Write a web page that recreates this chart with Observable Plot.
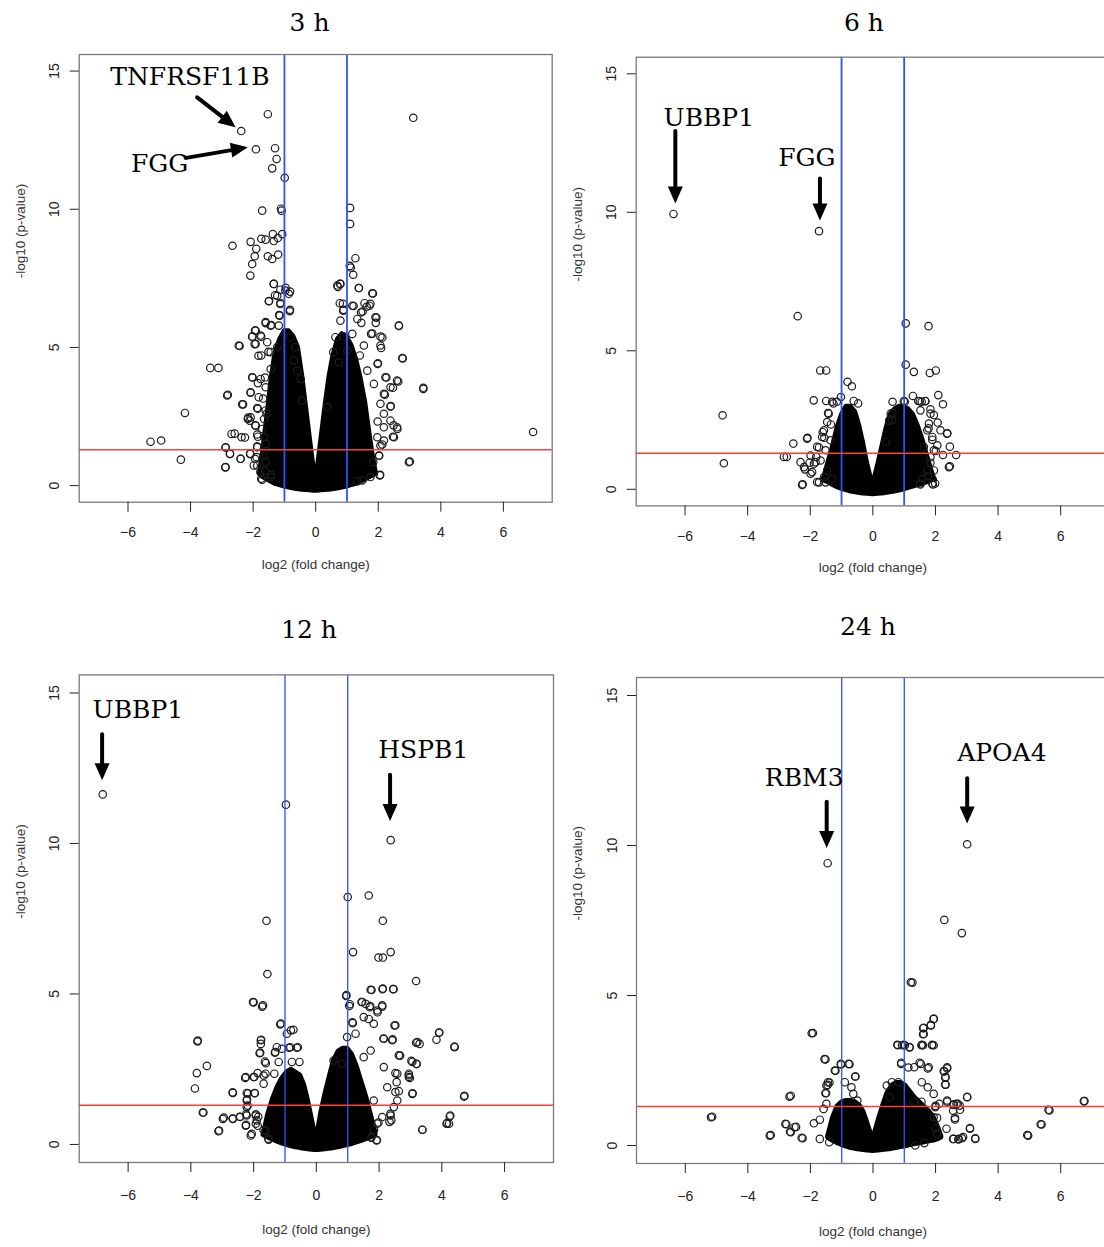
<!DOCTYPE html>
<html><head><meta charset="utf-8">
<script src="https://cdn.jsdelivr.net/npm/d3@7"></script>
<script src="https://cdn.jsdelivr.net/npm/@observablehq/plot@0.6"></script>
<style>
html,body{margin:0;padding:0;background:#fff;overflow:hidden;}
#wrap{position:relative;width:1104px;height:1247px;overflow:hidden;background:#fff;}
.panel{position:absolute;}
.panel svg{max-width:none !important;display:block;}
.title{position:absolute;font-family:"DejaVu Serif",serif;font-size:25px;color:#000;transform:translate(-50%,-50%);white-space:nowrap;}
</style></head><body><div id="wrap"></div>
<script>
// ---------- shared axis data ----------
const panelTitles = ["3 h", "6 h", "12 h", "24 h"];
const xTicks = [-6, -4, -2, 0, 2, 4, 6];
const yTicks = [0, 5, 10, 15];
const xDomain = [-7.56, 7.56];
const yDomain = [-0.6, 15.6];
const foldLines = [-1, 1];
const pLine = [1.301];
const xLabel = "log2 (fold change)";
const yLabel = "-log10 (p-value)";

// ---------- 3 h ----------
const pts3h = [[3.12,13.31],[-1.53,13.44],[-2.38,12.83],[-1.91,12.17],[-1.30,12.21],[-1.25,11.82],[-1.39,11.48],[-0.99,11.14],[-1.71,9.95],[-1.11,10.02],[-1.09,9.95],[1.10,10.05],[1.10,9.47],[-2.66,8.68],[-2.08,8.82],[-1.90,8.57],[-1.74,8.93],[-1.60,8.90],[-1.37,9.10],[-1.34,8.85],[-1.21,8.96],[-1.07,9.10],[-1.95,8.30],[-2.03,8.02],[-1.53,8.30],[-1.39,8.20],[-1.20,8.36],[-2.09,7.60],[1.27,8.23],[1.09,7.95],[1.12,7.89],[1.20,7.63],[0.71,7.19],[0.78,7.30],[1.38,7.15],[1.83,6.95],[1.75,6.58],[1.63,6.47],[0.87,6.58],[0.89,6.36],[1.21,6.50],[1.50,6.30],[1.94,6.08],[1.92,5.89],[1.46,5.89],[2.66,5.78],[2.78,4.60],[1.98,4.40],[2.09,4.98],[2.13,5.36],[1.81,5.50],[3.44,3.50],[6.95,1.94],[3.01,0.87],[2.64,3.77],[2.47,3.54],[2.26,3.91],[2.40,2.88],[2.49,2.18],[2.61,2.05],[2.47,1.77],[2.13,1.49],[2.03,1.08],[2.06,0.39],[2.21,3.29],[1.98,2.32],
[-1.13,7.09],[-1.34,7.30],[-0.82,7.02],[-0.96,7.16],[-1.49,6.68],[-1.13,6.61],[-0.82,6.36],[-1.30,6.89],[-1.60,5.92],[-1.42,5.81],[-1.17,6.17],[-1.94,5.61],[-2.02,5.39],[-1.74,5.39],[-1.95,5.12],[-2.43,5.05],[-1.83,4.70],[-1.51,4.84],[-3.37,4.26],[-3.11,4.26],[-2.02,3.91],[-1.85,3.71],[-1.62,3.91],[-2.81,3.29],[-2.08,3.36],[-1.68,3.15],[-2.32,2.94],[-1.85,2.78],[-1.57,2.60],[-4.18,2.63],[-2.16,2.46],[-2.11,2.35],[-1.93,2.18],[-2.59,1.88],[-2.26,1.74],[-5.28,1.59],[-4.94,1.63],[-1.85,1.77],[-1.87,1.42],[-2.88,1.38],[-2.74,1.15],[-2.09,1.15],[-4.31,0.94],[-2.40,0.97],[-1.94,0.97],[-2.89,0.66],[-1.87,0.73],[-1.74,0.25],[-1.68,1.08],[-1.62,0.53],[-1.42,0.39],
[-1.34,7.30],[-1.23,6.87],[-0.97,7.06],[-0.86,6.94],[-1.50,6.67],[-1.13,6.57],[-0.83,6.31],[-1.15,6.15],[-1.60,5.88],[-1.44,5.79],[-1.18,5.79],[-1.92,5.61],[-2.03,5.39],[-1.76,5.43],[-0.81,5.37],[-1.55,5.19],[-2.46,5.07],[-1.92,5.13],[-1.23,5.01],[-0.65,5.01],[-1.74,4.71],[-1.44,4.83],[-0.70,4.53],[-1.44,4.22],[-0.59,4.16],[-2.03,3.92],[-1.76,3.86],[-0.48,3.86],[-1.60,3.56],[-2.08,3.38],[-2.83,3.26],[-1.82,3.20],[-0.44,3.08],[-2.35,2.94],[-1.87,2.81],[-1.60,2.72],[-2.08,2.47],[-2.17,2.41],[-1.65,2.41],[-1.92,2.17],[-1.71,2.05],[-1.87,1.85],[-2.69,1.87],[-2.37,1.75],[-1.65,1.75],[-1.60,1.51],[-1.87,1.39],[-2.88,1.39],[-2.10,1.15],[-2.74,1.15],[-2.40,0.97],[-1.89,1.03],[-1.60,0.85],[-1.98,0.73],[-2.88,0.67],[-1.77,0.49],[-1.44,0.31],[-1.71,0.21],
[0.69,7.24],[0.79,7.30],[1.38,7.15],[1.81,6.96],[0.77,6.60],[1.17,6.51],[1.56,6.60],[1.72,6.51],[0.88,6.33],[1.45,6.27],[1.91,6.09],[0.79,5.97],[1.33,6.03],[2.66,5.79],[1.77,5.49],[2.07,5.39],[0.63,5.37],[0.90,5.39],[1.17,5.49],[1.54,5.07],[2.07,5.07],[0.56,4.83],[1.01,4.89],[1.41,4.71],[2.77,4.62],[1.99,4.43],[0.74,4.46],[1.65,4.16],[2.23,3.92],[2.60,3.80],[3.44,3.54],[1.86,3.68],[2.39,3.56],[2.18,3.32],[2.07,2.96],[2.39,2.86],[0.37,2.84],[2.18,2.60],[2.39,2.35],[2.60,2.11],[2.18,2.11],[1.97,1.75],[2.50,1.75],[2.18,1.63],[2.07,1.45],[2.02,1.09],[1.84,0.85],[2.98,0.85],[2.05,0.37],[1.75,0.31],[1.49,0.19],[1.33,0.15]];
const core3hX  = [-1.8,-1.7,-1.55,-1.42,-1.3,-1.15,-1.0,-0.85,-0.7,-0.55,-0.42,-0.3,-0.18,-0.07,0,0.07,0.18,0.3,0.42,0.55,0.7,0.85,1.0,1.15,1.3,1.45,1.6,1.72,1.85,1.95];
const core3hHi = [0.4,1.2,2.6,3.9,4.8,5.3,5.6,5.6,5.4,5.0,4.0,2.9,1.8,0.8,0.25,0.8,1.8,2.9,3.9,4.7,5.3,5.5,5.4,5.1,4.6,3.9,3.0,2.0,1.0,0.4];
const core3hLo = [0.4,0.3,0.2,0.12,0.05,0.0,-0.05,-0.09,-0.12,-0.15,-0.17,-0.18,-0.19,-0.2,-0.2,-0.2,-0.19,-0.18,-0.17,-0.15,-0.12,-0.09,-0.05,0.0,0.05,0.12,0.2,0.28,0.36,0.42];
const lab3hText = ["TNFRSF11B", "FGG"];
const lab3hX = [-4.02, -4.99];
const lab3hY = [14.77, 11.65];
const arr3hX1 = [-3.79, -4.14], arr3hY1 = [14.05, 11.86], arr3hX2 = [-2.56, -2.17], arr3hY2 = [12.97, 12.24];

// ---------- 6 h ----------
const pts6h = [[-6.37,9.94],[-1.72,9.32],[-2.40,6.25],[1.05,5.99],[1.78,5.89],[1.05,4.50],[-1.68,4.29],[-1.49,4.29],[1.31,4.24],[1.82,4.20],[2.01,4.29],[-0.81,3.88],[-0.67,3.72],[2.09,3.40],[-1.89,3.21],[2.24,3.07],[-4.80,2.67],[0.63,3.16],[1.28,3.37],[1.56,3.16],[2.07,2.41],[2.38,2.02],[-2.09,1.86],[-2.54,1.65],[2.46,1.54],[2.66,1.24],[2.24,1.24],[2.46,0.83],[-2.84,1.17],[-2.75,1.17],[-4.76,0.94],[-2.24,0.18],[-1.49,3.19],[-1.26,3.10],[-1.02,3.33],[-1.15,3.16],[-0.61,3.19],[-0.47,3.10],[-1.43,2.75],[-1.34,2.34],[-1.60,2.06],[-1.55,1.86],[-1.72,1.51],[-1.81,1.17],[-2.02,0.96],[-2.17,0.72],[-1.94,0.62],[-1.72,0.25],[-1.51,0.25],[0.99,3.19],[1.45,3.19],[1.67,3.19],[1.84,2.89],[1.95,2.68],[1.78,2.20],[1.90,1.79],[2.01,1.38],[1.84,0.96],[1.76,0.48],[1.90,0.21],[1.99,0.21],[1.50,0.21],[0.63,2.75],[0.52,2.48],
[-1.30,3.16],[-1.41,2.73],[-1.46,2.43],[-1.56,2.13],[-1.62,1.89],[-2.10,1.83],[-1.78,1.53],[-2.31,0.98],[-2.20,0.80],[-1.88,0.92],[-1.99,0.56],[-1.78,0.26],[-2.26,0.16],[-1.56,0.44],[2.37,2.01],[2.16,2.13],[2.43,0.80],[2.06,1.59],[1.95,0.68],[1.92,0.17],[1.52,0.17],[1.02,3.16],[1.50,3.18],[1.68,3.18],[1.84,2.73],[1.79,2.37],[0.41,1.71],[0.57,2.73],[0.62,2.49],
[-1.99,1.22],[-1.83,0.98],[-1.46,0.68],[-1.30,0.38],[-1.67,1.04],[-1.51,1.41],[-1.35,1.77],[1.52,2.85],[1.74,2.13],[1.90,1.89],[1.84,1.16],[1.74,0.68],[1.58,0.38],[1.95,1.41],[1.63,1.53]];
const core6hX  = [-1.6,-1.45,-1.3,-1.15,-1.0,-0.85,-0.7,-0.55,-0.42,-0.3,-0.18,-0.07,0,0.07,0.18,0.3,0.42,0.55,0.7,0.85,1.0,1.15,1.3,1.45,1.6,1.75,1.88,2.0];
const core6hHi = [0.3,0.9,1.5,2.2,2.7,3.0,3.0,2.8,2.3,1.7,1.0,0.5,0.2,0.5,1.0,1.6,2.2,2.7,2.9,3.0,3.0,2.9,2.7,2.3,1.8,1.2,0.7,0.3];
const core6hLo = [0.32,0.25,0.15,0.07,0.0,-0.05,-0.1,-0.13,-0.15,-0.17,-0.18,-0.19,-0.2,-0.19,-0.18,-0.17,-0.15,-0.13,-0.1,-0.06,-0.02,0.03,0.08,0.13,0.18,0.24,0.3,0.36];
const lab6hText = ["UBBP1", "FGG"];
const lab6hX = [-5.24, -2.11];
const lab6hY = [13.42, 11.97];
const arr6hX1 = [-6.31, -1.69], arr6hY1 = [12.94, 11.22], arr6hX2 = [-6.31, -1.69], arr6hY2 = [10.32, 9.70];

// ---------- 12 h ----------
const pts12h = [[-6.81,11.63],[-0.97,11.29],[2.37,10.11],[1.00,8.22],[1.67,8.27],[-1.59,7.43],[2.12,7.43],[1.17,6.39],[2.37,6.39],[1.98,6.21],[2.12,6.21],[-1.56,5.66],[3.18,5.43],[0.96,4.96],[1.76,5.13],[2.12,5.18],[2.46,5.16],[-2.00,4.72],[-1.70,4.62],[1.07,4.66],[1.44,4.73],[1.72,4.60],[2.10,4.62],[1.95,4.39],[1.15,4.06],[2.52,3.96],[-1.13,4.02],[-0.73,3.81],[3.92,3.72],[3.83,3.48],[3.18,3.38],[3.29,3.34],[4.40,3.25],[2.14,3.52],[2.43,3.49],[2.67,2.95],[-3.78,3.45],[-1.76,3.48],[-1.79,3.05],[-3.49,2.61],[-3.81,2.37],[-3.87,1.86],[-1.32,3.05],[-0.87,3.21],[-0.62,3.21],[-1.64,2.75],[-1.62,2.35],[-2.25,2.24],[-1.98,2.24],[-1.87,2.37],[3.03,2.78],[3.20,2.67],[2.95,2.30],[2.98,2.21],[2.52,2.37],[2.63,1.77],[3.07,1.70],[4.72,1.62],[-2.67,1.73],[-2.18,1.70],[-1.96,1.70],[-2.21,1.50],[-2.19,1.29],[-3.60,1.06],[-2.95,0.89],[-2.67,0.86],[-2.44,0.92],[-2.24,1.00],[-1.93,1.00],[-1.85,0.92],[-2.24,0.65],[-1.87,0.62],[-2.06,0.35],[-3.10,0.46],[-1.62,0.46],[-1.53,0.19],[2.33,0.75],[2.37,0.96],[4.27,0.96],[4.15,0.69],[4.23,0.69],[3.38,0.49],[1.75,0.24],[1.93,0.15],[1.84,0.49],[1.98,0.73],
[-2.02,4.73],[-1.73,4.58],[0.95,4.93],[1.05,4.60],[1.73,5.14],[2.11,5.16],[2.45,5.16],[1.46,4.73],[1.57,4.67],[1.70,4.56],[2.10,4.58],[1.94,4.45],[1.51,4.23],[1.67,4.17],[1.83,4.01],[1.16,4.03],[2.49,3.95],[-1.15,3.99],[-0.81,3.79],[-0.94,3.68],[-1.77,3.46],[-1.77,3.34],[-3.79,3.42],[3.91,3.71],[3.22,3.40],[4.41,3.23],[0.98,3.57],[1.25,3.68],[2.15,3.51],[2.42,3.46],[-1.81,3.03],[-1.26,3.23],[-1.10,3.18],[-0.83,3.23],[-0.59,3.23],[-1.31,3.07],[-1.61,2.70],[-1.20,2.74],[-0.78,2.74],[-0.54,2.74],[-2.27,2.21],[-2.00,2.24],[-1.68,2.29],[-1.34,2.35],[-1.68,2.02],[-2.66,1.71],[-2.22,1.71],[-1.97,1.71],[-2.22,1.46],[-2.22,1.24],[-3.62,1.06],[-2.98,0.85],[-2.66,0.85],[-2.43,0.91],[-2.22,0.96],[-1.93,0.96],[-1.90,0.80],[-2.25,0.62],[-1.93,0.69],[-1.68,0.47],[-3.12,0.44],[-2.09,0.30],[-1.52,0.16],[0.55,2.79],[0.82,2.68],[2.63,2.96],[3.06,2.74],[3.19,2.68],[2.95,2.35],[2.95,2.24],[2.58,2.35],[2.56,2.07],[3.06,1.68],[4.71,1.59],[2.52,1.74],[2.58,1.46],[2.47,1.24],[2.36,1.02],[2.39,0.80],[2.10,0.91],[1.94,0.69],[1.75,0.22],[1.92,0.13],[3.38,0.49],[4.25,0.93],[4.17,0.71],[1.83,1.46],[2.26,1.90],[2.15,2.57],[1.73,3.12],[1.51,2.90]];
const core12hX  = [-1.7,-1.55,-1.4,-1.25,-1.1,-0.95,-0.8,-0.65,-0.5,-0.38,-0.26,-0.14,-0.05,0,0.05,0.15,0.28,0.4,0.55,0.7,0.85,1.0,1.15,1.3,1.45,1.6,1.75,1.9];
const core12hHi = [0.3,1.0,1.5,1.9,2.2,2.4,2.5,2.4,2.3,2.0,1.5,0.9,0.45,0.2,0.5,1.1,1.7,2.2,2.8,3.1,3.2,3.2,3.0,2.6,2.1,1.6,1.0,0.4];
const core12hLo = [0.3,0.22,0.15,0.08,0.02,-0.03,-0.08,-0.11,-0.14,-0.16,-0.18,-0.19,-0.2,-0.2,-0.2,-0.19,-0.18,-0.16,-0.14,-0.11,-0.08,-0.04,0.0,0.05,0.1,0.16,0.22,0.3];
const lab12hText = ["UBBP1", "HSPB1"];
const lab12hX = [-5.69, 3.41];
const lab12hY = [14.43, 13.11];
const arr12hX1 = [-6.83, 2.35], arr12hY1 = [13.63, 12.28], arr12hX2 = [-6.83, 2.35], arr12hY2 = [12.10, 10.75];

// ---------- 24 h ----------
const pts24h = [[-1.45,9.41],[3.01,10.04],[2.28,7.52],[2.84,7.08],[1.26,5.43],[1.94,4.22],[1.85,4.02],[1.60,3.91],[1.60,3.71],[-1.92,3.75],[0.79,3.34],[0.93,3.34],[1.02,3.34],[1.17,3.27],[1.55,3.34],[1.60,3.34],[1.89,3.34],[1.94,3.34],[-1.52,2.87],[-1.02,2.70],[-0.75,2.71],[-1.20,2.49],[0.90,2.76],[1.49,2.76],[1.75,2.57],[1.13,2.60],[2.28,2.47],[2.37,2.57],[2.31,2.26],[2.31,2.03],[-0.56,2.30],[-1.39,2.10],[-1.45,2.02],[-1.50,1.75],[-2.63,1.66],[3.01,1.62],[6.74,1.48],[2.37,1.46],[2.56,1.35],[2.67,1.39],[2.77,1.33],[2.56,1.16],[2.62,0.92],[5.61,1.19],[-5.14,0.96],[-2.77,0.71],[-2.46,0.62],[-2.63,0.44],[-3.27,0.35],[-2.25,0.24],[3.10,0.58],[3.27,0.24],[2.84,0.24],[2.56,0.22],[2.73,0.20],[4.93,0.35],[5.36,0.71],[1.30,1.46],[1.55,1.46],[2.00,1.32],[2.05,0.92],[2.00,0.58],
[-1.96,3.74],[-1.55,2.88],[-1.03,2.72],[-0.78,2.72],[-1.22,2.50],[-0.57,2.30],[-1.44,2.11],[-1.49,2.00],[-1.52,1.74],[-2.67,1.63],[-1.49,1.39],[-1.58,1.22],[-1.89,0.74],[-1.70,0.86],[-2.80,0.72],[-2.51,0.61],[-2.65,0.46],[-3.30,0.33],[-2.28,0.26],[-1.70,0.22],[-1.40,0.11],[-5.18,0.94],[-0.90,2.11],[-0.69,1.94],[-0.63,1.72],[-0.50,1.50],[1.21,5.44],[1.94,4.22],[1.85,4.00],[1.62,3.92],[1.62,3.72],[0.78,3.36],[0.98,3.36],[1.17,3.28],[1.56,3.36],[1.89,3.36],[0.90,2.72],[1.32,2.61],[1.53,2.72],[1.78,2.61],[2.26,2.48],[2.37,2.61],[2.32,2.28],[2.32,2.03],[3.01,1.61],[2.12,1.39],[2.37,1.50],[2.58,1.37],[2.71,1.39],[2.78,1.19],[2.62,0.87],[3.10,0.56],[3.27,0.22],[2.58,0.22],[2.74,0.22],[2.88,0.28],[4.96,0.33],[5.39,0.70],[5.64,1.17],[6.76,1.48],[0.44,2.00],[0.60,2.11],[0.81,2.11],[0.53,1.61],[1.56,2.11],[1.75,1.94],[1.94,1.72],[1.99,1.28],[1.94,0.94],[2.35,0.56],[2.05,0.39],[1.64,0.08],[1.35,0.0]];
const core24hX  = [-1.45,-1.3,-1.15,-1.0,-0.85,-0.7,-0.55,-0.42,-0.3,-0.18,-0.07,0,0.07,0.18,0.3,0.45,0.6,0.75,0.9,1.05,1.2,1.35,1.5,1.65,1.8,1.95,2.1,2.2];
const core24hHi = [0.3,0.9,1.3,1.45,1.5,1.5,1.45,1.35,1.15,0.8,0.45,0.2,0.5,0.9,1.3,1.75,2.0,2.1,2.1,2.0,1.8,1.6,1.45,1.3,1.15,0.95,0.6,0.3];
const core24hLo = [0.25,0.15,0.07,0.0,-0.05,-0.1,-0.13,-0.15,-0.17,-0.18,-0.19,-0.2,-0.19,-0.18,-0.17,-0.15,-0.13,-0.1,-0.07,-0.04,0.0,0.03,0.06,0.09,0.12,0.15,0.2,0.25];
const lab24hText = ["RBM3", "APOA4"];
const lab24hX = [-2.20, 4.12];
const lab24hY = [12.24, 13.07];
const arr24hX1 = [-1.48, 3.01], arr24hY1 = [11.46, 12.24], arr24hX2 = [-1.48, 3.01], arr24hY2 = [9.92, 10.73];

// ---------- build ----------
const zip = (...cols) => cols[0].map((_, i) => cols.map(c => c[i]));

function panel(cfg) {
  const kx = (cfg.width - cfg.ml - cfg.mr) / (xDomain[1] - xDomain[0]);
  const ky = (cfg.height - cfg.mt - cfg.mb) / (yDomain[1] - yDomain[0]);
  const core = zip(cfg.coreX, cfg.coreHi, cfg.coreLo).map(([x, hi, lo]) => ({x, hi, lo}));
  const labels = zip(cfg.labText, cfg.labX, cfg.labY).map(([t, x, y]) => ({t, x, y}));
  const arrows = zip(cfg.ax1, cfg.ay1, cfg.ax2, cfg.ay2).map(([x1, y1, x2, y2]) => ({
    x1, y1, x2, y2, rot: Math.atan2((x2 - x1) * kx, (y2 - y1) * ky) * 180 / Math.PI
  }));
  return Plot.plot({
    width: cfg.width, height: cfg.height,
    marginLeft: cfg.ml, marginRight: cfg.mr, marginTop: cfg.mt, marginBottom: cfg.mb,
    x: {domain: xDomain, label: null},
    y: {domain: yDomain, label: null},
    style: {fontFamily: "'Liberation Sans', Arial, Helvetica, sans-serif", fontSize: "14px", color: "#222", background: "white", overflow: "visible", maxWidth: "none"},
    marks: [
      Plot.areaY(core, {x: "x", y1: "lo", y2: "hi", fill: "#000", stroke: "#000", strokeWidth: 4, strokeLinejoin: "round", curve: "linear"}),
      Plot.dot(cfg.pts, {x: d => d[0], y: d => d[1], r: 3.7, stroke: "#1c1c1c", strokeWidth: 1.2}),
      Plot.ruleX(foldLines, {stroke: "#2f50ff", strokeWidth: cfg.lw}),
      Plot.ruleY(pLine, {stroke: "#ff3c3c", strokeWidth: 1.5}),
      Plot.frame({stroke: "#7a7a7a", strokeWidth: 1.3}),
      Plot.axisX({ticks: xTicks, tickSize: 10, tickPadding: cfg.xpad, label: null, anchor: "bottom"}),
      Plot.axisY({ticks: yTicks, tickSize: 9, tickPadding: 11, tickRotate: -90, label: null, anchor: "left"}),
      Plot.text([xLabel], {frameAnchor: "bottom", dy: cfg.xlab, text: d => d, fontSize: 13.5, fill: "#333"}),
      Plot.text([yLabel], {frameAnchor: "left", dx: -59, rotate: -90, text: d => d, fontSize: 13.5, fill: "#333"}),
      Plot.arrow(arrows, {x1: "x1", y1: "y1", x2: "x2", y2: "y2", stroke: "#000", strokeWidth: 4, headLength: 0, insetEnd: 12}),
      Plot.vector(arrows, {x: "x2", y: "y2", rotate: "rot", length: 17, r: 7.5, shape: "spike", anchor: "end", fill: "#000", stroke: "none"}),
      Plot.text(labels, {x: "x", y: "y", text: "t", fontFamily: "'DejaVu Serif', serif", fontSize: 25, fill: "#000"})
    ]
  });
}

const wrap = document.getElementById("wrap");
const cfgs = [
  {left: 0, top: 0, width: 560, height: 600, ml: 78.7, mr: 8.3, mt: 54, mb: 98.3, xpad: 15, xlab: 67, lw: 1.8,
   pts: pts3h, coreX: core3hX, coreHi: core3hHi, coreLo: core3hLo, labText: lab3hText, labX: lab3hX, labY: lab3hY,
   ax1: arr3hX1, ay1: arr3hY1, ax2: arr3hX2, ay2: arr3hY2, title: panelTitles[0], tx: 309.6, ty: 22},
  {left: 557, top: 0, width: 600, height: 600, ml: 78.7, mr: 48, mt: 56.7, mb: 94.6, xpad: 15, xlab: 66, lw: 1.8,
   pts: pts6h, coreX: core6hX, coreHi: core6hHi, coreLo: core6hLo, labText: lab6hText, labX: lab6hX, labY: lab6hY,
   ax1: arr6hX1, ay1: arr6hY1, ax2: arr6hX2, ay2: arr6hY2, title: panelTitles[1], tx: 864, ty: 22},
  {left: 0, top: 610, width: 560, height: 637, ml: 78.7, mr: 7, mt: 64.4, mb: 85, xpad: 17.5, xlab: 71, lw: 1.3,
   pts: pts12h, coreX: core12hX, coreHi: core12hHi, coreLo: core12hLo, labText: lab12hText, labX: lab12hX, labY: lab12hY,
   ax1: arr12hX1, ay1: arr12hY1, ax2: arr12hX2, ay2: arr12hY2, title: panelTitles[2], tx: 309, ty: 629},
  {left: 557, top: 610, width: 600, height: 637, ml: 79, mr: 48, mt: 67, mb: 84, xpad: 17.5, xlab: 72, lw: 1.3,
   pts: pts24h, coreX: core24hX, coreHi: core24hHi, coreLo: core24hLo, labText: lab24hText, labX: lab24hX, labY: lab24hY,
   ax1: arr24hX1, ay1: arr24hY1, ax2: arr24hX2, ay2: arr24hY2, title: panelTitles[3], tx: 868, ty: 626}
];
for (const c of cfgs) {
  const div = document.createElement("div");
  div.className = "panel";
  div.style.left = c.left + "px";
  div.style.top = c.top + "px";
  div.style.width = c.width + "px";
  div.style.height = c.height + "px";
  div.appendChild(panel(c));
  wrap.appendChild(div);
  const t = document.createElement("div");
  t.className = "title";
  t.textContent = c.title;
  t.style.left = c.tx + "px";
  t.style.top = c.ty + "px";
  wrap.appendChild(t);
}
</script></body></html>
